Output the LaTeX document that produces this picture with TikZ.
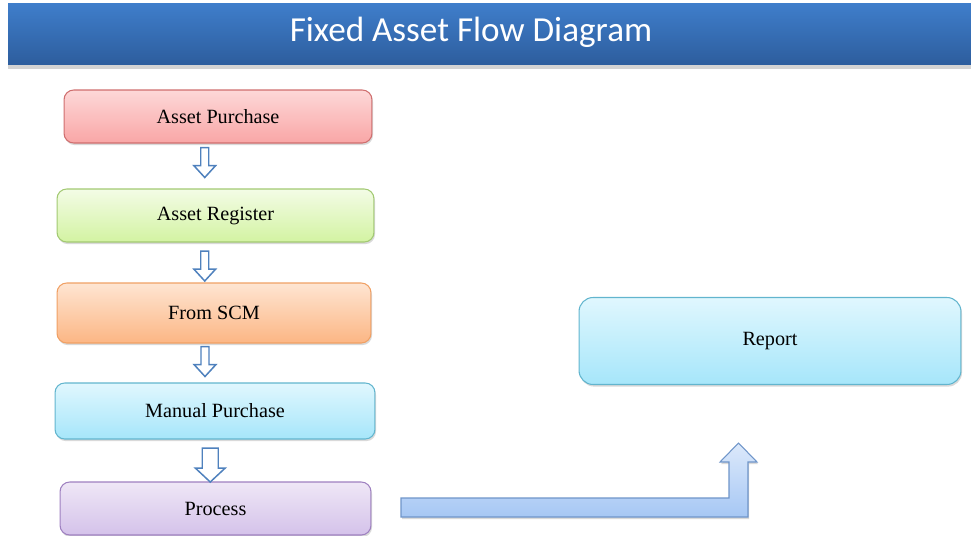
\documentclass[tikz,border=0pt]{standalone}
\usepackage{fontspec}
\setmainfont{Liberation Serif}
\newfontfamily\titlefont{Carlito}
\usepackage{xcolor}
\usetikzlibrary{positioning,calc,shadows}

\definecolor{barTop}{HTML}{3F7ECB}
\definecolor{barBot}{HTML}{2D5D9D}
\definecolor{arrLine}{HTML}{4F81BD}
\definecolor{bentTop}{HTML}{DCE9FB}
\definecolor{bentBot}{HTML}{A6C7F4}
\definecolor{bentLine}{HTML}{6F95C9}
\definecolor{pinkTop}{HTML}{FDD8D8}
\definecolor{pinkBot}{HTML}{F9A6A6}
\definecolor{pinkLine}{HTML}{CF6E6E}
\definecolor{greenTop}{HTML}{F3FCE6}
\definecolor{greenBot}{HTML}{D3F3A2}
\definecolor{greenLine}{HTML}{A2C972}
\definecolor{orangeTop}{HTML}{FEE5D2}
\definecolor{orangeBot}{HTML}{FCB684}
\definecolor{orangeLine}{HTML}{F0A064}
\definecolor{cyanTop}{HTML}{E0F7FE}
\definecolor{cyanBot}{HTML}{A6E6FA}
\definecolor{cyanLine}{HTML}{62B5CE}
\definecolor{purpleTop}{HTML}{EFE7F6}
\definecolor{purpleBot}{HTML}{D4C2EA}
\definecolor{purpleLine}{HTML}{9E80C0}

\tikzset{
  pics/dnarr/.style args={#1/#2/#3}{code={
    \draw[blockarr] (-#1,-#3) -- (#1,-#3) -- (#1,3) -- (#2,3) -- (0,#3)
      -- (-#2,3) -- (-#1,3) -- cycle;
  }}
}

\begin{document}
\begin{tikzpicture}[
    x=0.02cm, y=-0.02cm,
    stage/.style={draw, rounded corners=5.5pt, line width=0.6pt,
                  font=\fontsize{11.5}{13}\selectfont, text=black,
                  drop shadow={opacity=0.3, shadow xshift=0.6pt, shadow yshift=-1.2pt},
                  minimum height=1.06cm, align=center},
    pinkbox/.style={stage, draw=pinkLine, top color=pinkTop, bottom color=pinkBot},
    greenbox/.style={stage, draw=greenLine, top color=greenTop, bottom color=greenBot},
    orangebox/.style={stage, draw=orangeLine, top color=orangeTop, bottom color=orangeBot},
    cyanbox/.style={stage, draw=cyanLine, top color=cyanTop, bottom color=cyanBot},
    purplebox/.style={stage, draw=purpleLine, top color=purpleTop, bottom color=purpleBot},
    blockarr/.style={draw=arrLine, line width=0.85pt, fill=white, line join=miter},
    bentarr/.style={draw=bentLine, line width=0.6pt, top color=bentTop, bottom color=bentBot,
                    drop shadow={opacity=0.3, shadow xshift=0.6pt, shadow yshift=-1.2pt}}
]
\useasboundingbox (0,0) rectangle (971,535);

% ── Title bar ──
\node[minimum width=19.5cm, minimum height=1.24cm, inner sep=0pt,
      top color=barTop, bottom color=barBot,
      drop shadow={opacity=0.35, shadow xshift=0pt, shadow yshift=-2.5pt}]
      (titlebar) at (495.5,34) {};
\node[text=white, font=\titlefont\fontsize{20}{24}\selectfont] (title) at (471,32)
      {Fixed Asset Flow Diagram};

% ── Left column ──
\node[pinkbox, minimum width=6.16cm] (buy) at (218,116.5) {Asset Purchase};
\node[greenbox, minimum width=6.34cm] (reg) at (215.5,215.5) {Asset Register};
\node[orangebox, minimum width=6.28cm, minimum height=1.2cm] (scm) at (214,313) {From SCM};
\node[cyanbox, minimum width=6.4cm, minimum height=1.12cm] (manual) at (215,411) {Manual Purchase};
\node[purplebox, minimum width=6.22cm] (proc) at (215.5,508.5) {Process};

% ── Down arrows ──
\pic at ($(buy.south)!0.5!(reg.north)+(-12,-3.5)$) {dnarr=4/11/15};
\pic at ($(reg.south)!0.5!(scm.north)+(-10,3.5)$) {dnarr=4/11/15};
\pic at ($(scm.south)!0.5!(manual.north)+(-9.5,-1.5)$) {dnarr=4/11/15};
\pic at ($(manual.south)!0.5!(proc.north)+(-5,4.5)$) {dnarr=8/15/17};

% ── Report ──
\node[cyanbox, rounded corners=8pt, minimum width=7.64cm, minimum height=1.74cm]
      (report) at (770,341) {Report};

% bent arrow from process up to report
\draw[bentarr] (401,498) -- (729,498) -- (729,462) -- (720,462) -- (738.5,443)
  -- (757,462) -- (748,462) -- (748,517) -- (401,517) -- cycle;

\end{tikzpicture}
\end{document}
